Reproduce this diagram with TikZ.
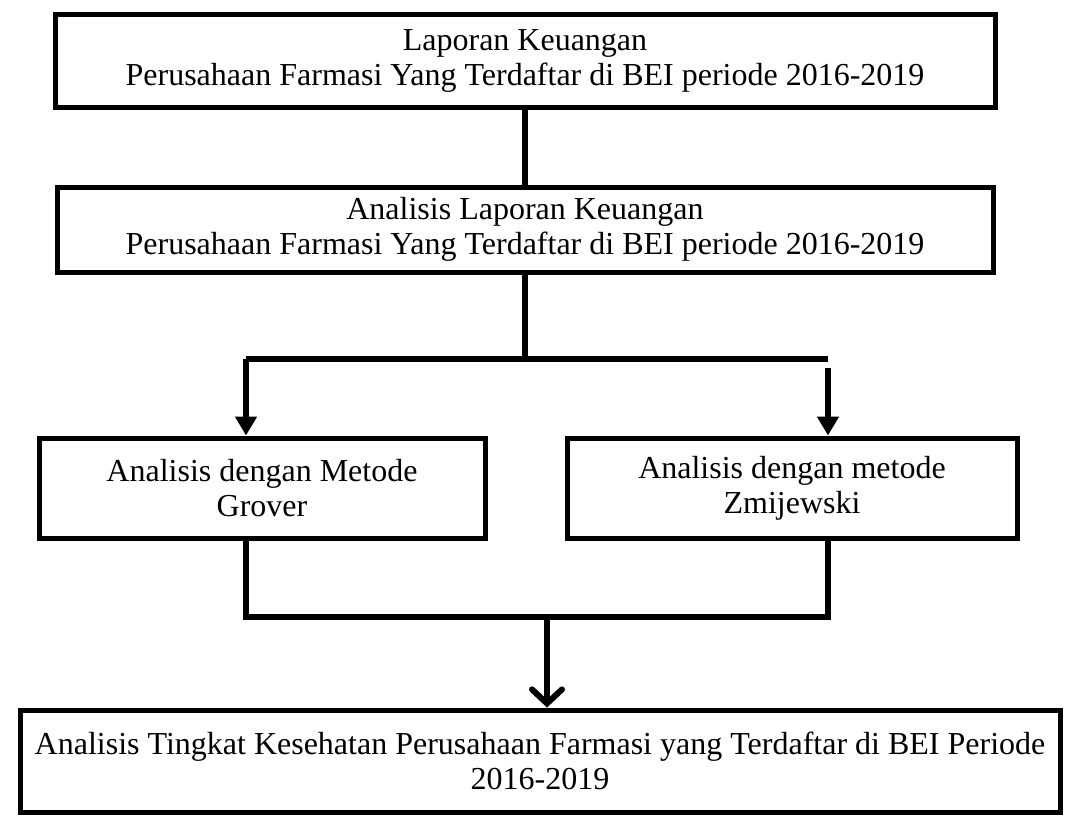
\documentclass[tikz,border=0pt]{standalone}
\usepackage{fontspec}
\setmainfont{Liberation Serif}
\usetikzlibrary{arrows.meta}

\begin{document}
\begin{tikzpicture}[
      x=1pt, y=-1pt,
      box/.style={draw, line width=5pt, minimum height=#1, align=center, inner sep=0pt,
                  font=\fontsize{32}{35}\selectfont},
      box/.default=92pt,
      link/.style={line width=6pt},
      arr/.style={link, -{Triangle[length=19pt, width=21pt]}},
      barb/.style={link, -{Straight Barb[length=14pt, width=30pt, line cap=round]}},
    ]
    \useasboundingbox (0,0) rectangle (1074,816);
    \node[box, minimum width=940pt]               (lap)  at (525,61)    {Laporan Keuangan\\Perusahaan Farmasi Yang Terdaftar di BEI periode 2016-2019};
    \node[box=85pt, minimum width=936pt]          (ana)  at (525,229.5) {Analisis Laporan Keuangan\\Perusahaan Farmasi Yang Terdaftar di BEI periode 2016-2019};
    \node[box=100pt, minimum width=446pt]         (grov) at (262,488)   {Analisis dengan Metode\\Grover};
    \node[box=100pt, minimum width=450pt]         (zmij) at (792,488)   {Analisis dengan metode\\Zmijewski};
    \node[box=102pt, minimum width=1040pt]        (kes)  at (540,761)   {Analisis Tingkat Kesehatan Perusahaan Farmasi yang Terdaftar di BEI Periode\\2016-2019};
    % split
    \coordinate (sl) at (246,359);
    \coordinate (sr) at (828,359);
    \coordinate (sr2) at (828,368);
    \draw[link] (lap) -- (ana);
    \draw[link] (ana.south) -- (ana.south |- sl);
    \draw[link] (sr) -- (sl);
    \draw[arr]  (sl) -- (sl |- grov.north);
    \draw[arr]  (sr2) -- (sr2 |- zmij.north);
    % merge
    \coordinate (ml) at (246,617);
    \coordinate (mr) at (828,617);
    \coordinate (mc) at (547,617);
    \draw[link] (ml |- grov.south) -- (ml) -- (mr) -- (mr |- zmij.south);
    \draw[barb] (mc) -- (mc |- kes.north);
  \end{tikzpicture}
\end{document}
